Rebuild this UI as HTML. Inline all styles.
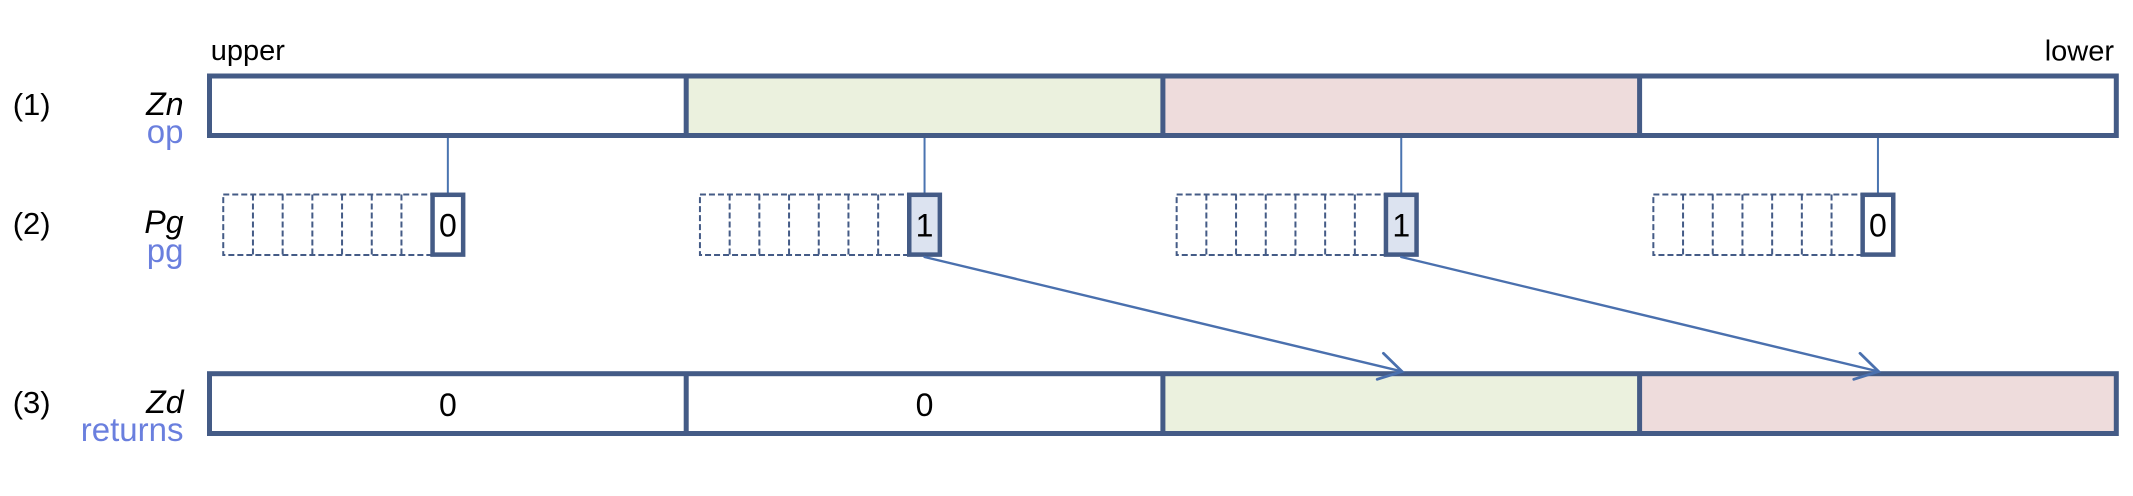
<!DOCTYPE html>
<html>
<head>
<meta charset="utf-8">
<style>
  html, body { margin: 0; padding: 0; background: #ffffff; }
  body { width: 2133px; height: 496px; overflow: hidden; }
  svg { display: block; }
  text { font-family: "Liberation Sans", Arial, sans-serif; }
</style>
</head>
<body>
<svg width="2133" height="496" viewBox="0 0 2133 496" xmlns="http://www.w3.org/2000/svg">
  <rect x="0" y="0" width="2133" height="496" fill="#ffffff"/>

  <!-- Top labels -->
  <text x="210.7" y="60" font-size="29" fill="#000">upper</text>
  <text x="2114" y="60.7" font-size="29" fill="#000" text-anchor="end">lower</text>

  <!-- Row labels -->
  <text x="12.7" y="115" font-size="31" fill="#000">(1)</text>
  <text x="183.5" y="115" font-size="32" font-style="italic" fill="#000" text-anchor="end">Zn</text>
  <text x="183.5" y="143" font-size="33" fill="#6a7fde" text-anchor="end">op</text>

  <text x="12.7" y="234" font-size="31" fill="#000">(2)</text>
  <text x="183.5" y="233" font-size="32" font-style="italic" fill="#000" text-anchor="end">Pg</text>
  <text x="183.5" y="262" font-size="33" fill="#6a7fde" text-anchor="end">pg</text>

  <text x="12.7" y="413" font-size="31" fill="#000">(3)</text>
  <text x="183.5" y="413" font-size="32" font-style="italic" fill="#000" text-anchor="end">Zd</text>
  <text x="183.5" y="441" font-size="33" fill="#6a7fde" text-anchor="end">returns</text>

  <!-- Row 1: Zn -->
  <rect x="209.5" y="76" width="476.7" height="59.5" fill="#ffffff"/>
  <rect x="686.2" y="76" width="476.7" height="59.5" fill="#ebf1de"/>
  <rect x="1162.9" y="76" width="476.7" height="59.5" fill="#eedcdc"/>
  <rect x="1639.6" y="76" width="476.7" height="59.5" fill="#ffffff"/>
  <rect x="209.5" y="76" width="1906.8" height="59.5" fill="none" stroke="#445b86" stroke-width="5"/>
  <line x1="686.2" y1="76" x2="686.2" y2="135.5" stroke="#445b86" stroke-width="5"/>
  <line x1="1162.9" y1="76" x2="1162.9" y2="135.5" stroke="#445b86" stroke-width="5"/>
  <line x1="1639.6" y1="76" x2="1639.6" y2="135.5" stroke="#445b86" stroke-width="5"/>

  <!-- Connectors row1 -> row2 -->
  <g stroke="#4a74b0" stroke-width="2">
    <line x1="447.85" y1="138" x2="447.85" y2="193"/>
    <line x1="924.55" y1="138" x2="924.55" y2="193"/>
    <line x1="1401.25" y1="138" x2="1401.25" y2="193"/>
    <line x1="1877.95" y1="138" x2="1877.95" y2="193"/>
  </g>

  <!-- Row 2: predicate groups -->
  <g stroke="#445b86" stroke-width="2" stroke-dasharray="6 3" fill="none">
    <!-- group 1 -->
    <rect x="223.25" y="194.5" width="209.3" height="60.5"/>
    <line x1="252.95" y1="194.5" x2="252.95" y2="255"/>
    <line x1="282.65" y1="194.5" x2="282.65" y2="255"/>
    <line x1="312.35" y1="194.5" x2="312.35" y2="255"/>
    <line x1="342.05" y1="194.5" x2="342.05" y2="255"/>
    <line x1="371.75" y1="194.5" x2="371.75" y2="255"/>
    <line x1="401.45" y1="194.5" x2="401.45" y2="255"/>
    <!-- group 2 -->
    <rect x="699.95" y="194.5" width="209.3" height="60.5"/>
    <line x1="729.65" y1="194.5" x2="729.65" y2="255"/>
    <line x1="759.35" y1="194.5" x2="759.35" y2="255"/>
    <line x1="789.05" y1="194.5" x2="789.05" y2="255"/>
    <line x1="818.75" y1="194.5" x2="818.75" y2="255"/>
    <line x1="848.45" y1="194.5" x2="848.45" y2="255"/>
    <line x1="878.15" y1="194.5" x2="878.15" y2="255"/>
    <!-- group 3 -->
    <rect x="1176.65" y="194.5" width="209.3" height="60.5"/>
    <line x1="1206.35" y1="194.5" x2="1206.35" y2="255"/>
    <line x1="1236.05" y1="194.5" x2="1236.05" y2="255"/>
    <line x1="1265.75" y1="194.5" x2="1265.75" y2="255"/>
    <line x1="1295.45" y1="194.5" x2="1295.45" y2="255"/>
    <line x1="1325.15" y1="194.5" x2="1325.15" y2="255"/>
    <line x1="1354.85" y1="194.5" x2="1354.85" y2="255"/>
    <!-- group 4 -->
    <rect x="1653.35" y="194.5" width="209.3" height="60.5"/>
    <line x1="1683.05" y1="194.5" x2="1683.05" y2="255"/>
    <line x1="1712.75" y1="194.5" x2="1712.75" y2="255"/>
    <line x1="1742.45" y1="194.5" x2="1742.45" y2="255"/>
    <line x1="1772.15" y1="194.5" x2="1772.15" y2="255"/>
    <line x1="1801.85" y1="194.5" x2="1801.85" y2="255"/>
    <line x1="1831.55" y1="194.5" x2="1831.55" y2="255"/>
  </g>

  <!-- Solid predicate bit boxes -->
  <g stroke="#445b86" stroke-width="4.5">
    <rect x="432.55" y="194.8" width="30.6" height="59.8" fill="#ffffff"/>
    <rect x="909.25" y="194.8" width="30.6" height="59.8" fill="#dce3f0"/>
    <rect x="1385.95" y="194.8" width="30.6" height="59.8" fill="#dce3f0"/>
    <rect x="1862.65" y="194.8" width="30.6" height="59.8" fill="#ffffff"/>
  </g>
  <g font-size="32" fill="#000" text-anchor="middle">
    <text x="447.85" y="236.5">0</text>
    <text x="924.55" y="236.5">1</text>
    <text x="1401.25" y="236.5">1</text>
    <text x="1877.95" y="236.5">0</text>
  </g>

  <!-- Row 3: Zd -->
  <rect x="209.5" y="373.7" width="476.7" height="59.8" fill="#ffffff"/>
  <rect x="686.2" y="373.7" width="476.7" height="59.8" fill="#ffffff"/>
  <rect x="1162.9" y="373.7" width="476.7" height="59.8" fill="#ebf1de"/>
  <rect x="1639.6" y="373.7" width="476.7" height="59.8" fill="#eedcdc"/>
  <rect x="209.5" y="373.7" width="1906.8" height="59.8" fill="none" stroke="#445b86" stroke-width="5"/>
  <line x1="686.2" y1="373.7" x2="686.2" y2="433.5" stroke="#445b86" stroke-width="5"/>
  <line x1="1162.9" y1="373.7" x2="1162.9" y2="433.5" stroke="#445b86" stroke-width="5"/>
  <line x1="1639.6" y1="373.7" x2="1639.6" y2="433.5" stroke="#445b86" stroke-width="5"/>
  <g font-size="32" fill="#000" text-anchor="middle">
    <text x="447.85" y="416">0</text>
    <text x="924.55" y="416">0</text>
  </g>

  <!-- Arrows -->
  <g stroke="#4a70ae" stroke-width="2.4" fill="none" stroke-linecap="round">
    <line x1="924.55" y1="257" x2="1402" y2="371.5"/>
    <polyline points="1383.4,353.3 1402,371.5 1377.2,379.3" stroke-width="2.8" stroke-linejoin="miter"/>
    <line x1="1401.25" y1="257" x2="1878.6" y2="371.5"/>
    <polyline points="1860,353.3 1878.6,371.5 1853.8,379.3" stroke-width="2.8" stroke-linejoin="miter"/>
  </g>
</svg>
</body>
</html>
